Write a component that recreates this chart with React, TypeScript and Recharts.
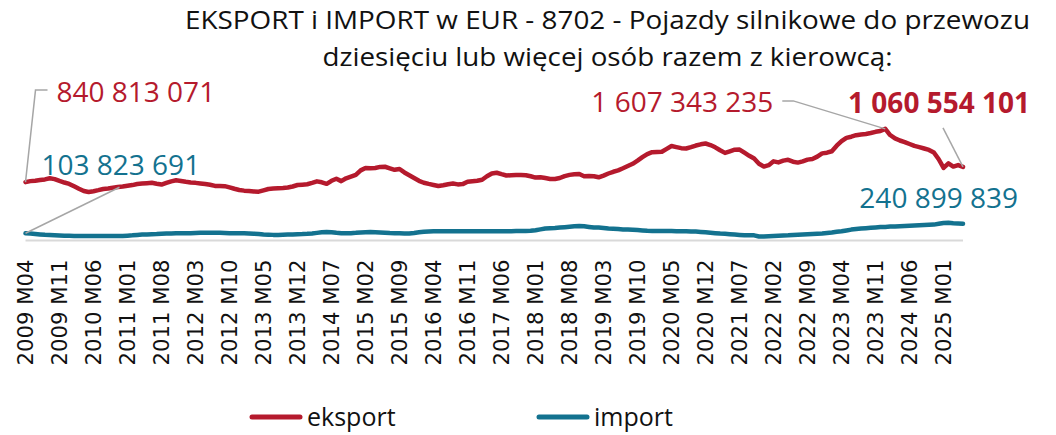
import { LineChart, Line, XAxis, YAxis, Legend } from 'recharts';

// monthly values, EUR millions, 2009 M04 .. 2025 M05
const startYear = 2009;
const startMonth = 4;

const exportMln: number[] = [
  840.813071, 855, 862, 871, 880, 896, 884, 858, 835, 815,
  780, 745, 712, 698, 710, 725, 742, 750, 760, 770,
  778, 788, 798, 813, 820, 826, 832, 818, 806, 830,
  852, 867, 858, 845, 834, 830, 822, 815, 803, 786,
  785, 783, 765, 745, 728, 718, 712, 706, 703, 722,
  742, 748, 752, 756, 763, 778, 799, 804, 810, 830,
  852, 838, 816, 860, 890, 855, 896, 920, 945, 1010,
  1044, 1042, 1045, 1060, 1062, 1040, 1018, 1030, 980, 940,
  900, 860, 832, 815, 800, 785, 795, 810, 820, 808,
  812, 845, 852, 860, 875, 925, 965, 976, 955, 936,
  940, 943, 943, 940, 925, 906, 912, 900, 886, 885,
  900, 928, 945, 955, 958, 925, 930, 925, 910, 935,
  965, 990, 1010, 1040, 1072, 1105, 1150, 1200, 1245, 1272,
  1275, 1279, 1320, 1360, 1345, 1330, 1325, 1345, 1368, 1385,
  1397, 1375, 1342, 1300, 1262, 1285, 1308, 1310, 1265, 1220,
  1180, 1105, 1065, 1085, 1140, 1125, 1150, 1162, 1135, 1122,
  1140, 1165, 1175, 1208, 1255, 1265, 1285, 1365, 1430, 1478,
  1495, 1517, 1528, 1535, 1548, 1565, 1577, 1607.343235, 1519, 1470,
  1440, 1418, 1390, 1362, 1345, 1325, 1305, 1268, 1170, 1045,
  1110, 1065, 1087, 1060.554101,
];

const importMln: number[] = [
  103.823691,
  100, 95, 88, 82, 78,
  75, 72, 70, 68, 66, 66, 65,
  65, 64, 65, 66, 65, 64, 65, 66,
  70, 74, 80, 85, 88, 90, 92,
  96, 100, 102, 104, 105, 104,
  106, 108, 110, 112, 113, 112,
  110, 108, 106, 105, 104, 104,
  102, 98, 94, 88, 84, 81, 80,
  82, 85, 88, 90, 92, 96,
  102, 110, 118, 123, 120, 112, 106,
  104, 106, 110, 116, 120, 123, 120,
  116, 112, 108, 106, 104, 102, 100,
  108, 118, 126, 130, 133, 132, 134,
  135, 133, 132, 134, 133, 132, 134,
  135, 133, 132, 134, 135, 133, 134,
  136, 138, 138, 139, 148, 160, 172,
  176, 180, 186, 192, 198, 205, 210,
  205, 195, 186, 186, 180, 172, 168,
  164, 160, 158, 155, 150, 145, 140,
  138, 137, 136, 138, 137, 135, 134,
  133, 130, 128, 124, 118, 112, 106,
  100, 96, 90, 85, 80, 76, 75,
  74, 58, 56, 62, 66, 70, 72,
  74, 78, 82, 86, 90, 95, 98,
  102, 108, 115, 125, 133, 145, 157,
  165, 172, 178, 183, 188, 193, 196,
  200, 203, 206, 210, 214, 216, 219,
  222, 226, 229, 240, 252, 256,
  250, 246, 240.899839,
];

const months: string[] = [];
for (let i = 0; i < exportMln.length; i++) {
  const m = startMonth - 1 + i;
  months.push(`${startYear + Math.floor(m / 12)} M${String((m % 12) + 1).padStart(2, '0')}`);
}

const data = months.map((month, i) => ({
  month,
  eksport: exportMln[i],
  import: importMln[i],
}));

const RED = '#B51A2D';
const TEAL = '#13728F';
const LEADER = '#A6A6A6';
const lastIdx = exportMln.length - 1;
const maxIdx = exportMln.indexOf(Math.max(...exportMln));

const fmt = (v: number) =>
  Math.round(v * 1e6).toString().replace(/\B(?=(\d{3})+(?!\d))/g, ' ');

const labelFont = { fontFamily: 'Open Sans', fontSize: 28 };

function ExportLabel(props: any) {
  const { x, y } = props;
  const i = props.index ?? exportMln.indexOf(props.value);
  if (i === 0) {
    return (
      <g>
        <polyline points={`${x},${y} ${x + 10},${y - 92} ${x + 22},${y - 92}`} fill="none" stroke={LEADER} strokeWidth={1.5} />
        <text x={x + 31} y={y - 80} fill={RED} {...labelFont}>{fmt(exportMln[i])}</text>
      </g>
    );
  }
  if (i === maxIdx) {
    return (
      <g>
        <polyline points={`${x},${y} ${x - 92},${y - 28} ${x - 103},${y - 28}`} fill="none" stroke={LEADER} strokeWidth={1.5} />
        <text x={x - 112} y={y - 17} textAnchor="end" fill={RED} {...labelFont}>{fmt(exportMln[i])}</text>
      </g>
    );
  }
  if (i === lastIdx) {
    return (
      <g>
        <line x1={x} y1={y} x2={x - 20} y2={y - 39} stroke={LEADER} strokeWidth={1.5} />
        <text x={x + 67} y={y - 54} textAnchor="end" fill={RED} fontWeight="bold" {...labelFont}>{fmt(exportMln[i])}</text>
      </g>
    );
  }
  return null;
}

function ImportLabel(props: any) {
  const { x, y } = props;
  const i = props.index ?? importMln.indexOf(props.value);
  if (i === 0) {
    return (
      <g>
        <line x1={x} y1={y} x2={x + 94} y2={y - 46} stroke={LEADER} strokeWidth={1.5} />
        <text x={x + 16} y={y - 58} fill={TEAL} {...labelFont}>{fmt(importMln[i])}</text>
      </g>
    );
  }
  if (i === lastIdx) {
    return <text x={x + 55} y={y - 16} textAnchor="end" fill={TEAL} {...labelFont}>{fmt(importMln[i])}</text>;
  }
  return null;
}

function AxisTick({ x, y, payload }: any) {
  return (
    <text
      transform={`translate(${x + 7.5},${y + 19}) rotate(-90)`}
      textAnchor="end"
      style={{ fontFamily: "'DejaVu Sans', sans-serif", fontSize: 21.5 }}
      textLength={106}
      lengthAdjust="spacingAndGlyphs"
      fill="#111"
    >
      {payload.value}
    </text>
  );
}

const legendPos = [
  { line: 252, text: 307 },
  { line: 539, text: 594 },
];

function LegendContent({ payload }: any) {
  return (
    <svg width={1056} height={36}>
      {(payload || []).map((p: any, k: number) => (
        <g key={p.value}>
          <line x1={legendPos[k].line} y1={18} x2={legendPos[k].line + 48} y2={18} stroke={p.color} strokeWidth={5} strokeLinecap="round" />
          <text x={legendPos[k].text} y={27} fontFamily="Open Sans" fontSize={25} fill="#111">{p.value}</text>
        </g>
      ))}
    </svg>
  );
}

export default function App() {
  return (
    <div style={{ position: 'absolute', left: 0, top: 0, width: 1056, height: 435, background: '#fff' }}>
      <LineChart width={1056} height={435} data={data} margin={{ top: 32.2, right: 93, left: 25.5, bottom: 0 }}>
        <XAxis
          dataKey="month"
          interval={6}
          tick={<AxisTick />}
          tickLine={false}
          tickSize={0}
          tickMargin={0}
          height={158.5}
          axisLine={{ stroke: '#D9D9D9', strokeWidth: 2 }}
        />
        <YAxis hide domain={[0, 3000]} />
        <Legend
          verticalAlign="bottom"
          content={<LegendContent />}
          wrapperStyle={{ left: 0, bottom: 0, width: 1056, height: 36 }}
        />
        <Line
          dataKey="eksport"
          name="eksport"
          stroke={RED}
          strokeWidth={4.5}
          strokeLinejoin="round"
          strokeLinecap="round"
          dot={false}
          activeDot={false}
          isAnimationActive={false}
          label={<ExportLabel />}
        />
        <Line
          dataKey="import"
          name="import"
          stroke={TEAL}
          strokeWidth={4.5}
          strokeLinejoin="round"
          strokeLinecap="round"
          dot={false}
          activeDot={false}
          isAnimationActive={false}
          label={<ImportLabel />}
        />
      </LineChart>
      <svg width={1056} height={80} style={{ position: 'absolute', left: 0, top: 0 }}>
        <text x={607.5} y={29} textAnchor="middle" fontFamily="Open Sans" fontSize={25} fill="#111" textLength={845} lengthAdjust="spacingAndGlyphs">
          EKSPORT i IMPORT w EUR - 8702 - Pojazdy silnikowe do przewozu
        </text>
        <text x={607.5} y={66} textAnchor="middle" fontFamily="Open Sans" fontSize={25} fill="#111" textLength={570} lengthAdjust="spacingAndGlyphs">
          dziesięciu lub więcej osób razem z kierowcą:
        </text>
      </svg>
    </div>
  );
}
